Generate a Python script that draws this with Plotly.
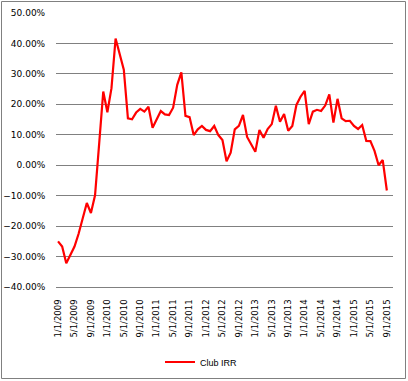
import plotly.graph_objects as go

# Monthly categories 1/1/2009 .. 10/1/2015 (last category empty)
years = [2009, 2010, 2011, 2012, 2013, 2014, 2015]
categories = [f"{m}/1/{y}" for y in years for m in range(1, 13)][:82]

club_irr = [
    -25.0, -26.7, -32.2, -29.5, -26.7, -22.5, -17.5, -12.4, -15.7, -9.9,
    7.0, 24.2, 17.4, 25.3, 41.6, 36.5, 31.4, 15.4, 15.1, 17.3,
    18.5, 17.6, 19.2, 12.3, 15.2, 17.8, 16.7, 16.5, 18.9, 26.4,
    30.5, 16.2, 15.8, 9.9, 11.8, 12.9, 11.6, 11.2, 12.9, 9.9,
    8.3, 1.3, 4.1, 11.8, 12.9, 16.5, 9.3, 6.8, 4.4, 11.6,
    9.0, 11.9, 13.5, 19.5, 14.3, 16.8, 11.3, 12.9, 19.8, 22.5,
    24.4, 13.5, 17.6, 18.2, 17.8, 19.6, 23.3, 14.0, 21.8, 15.4,
    14.5, 14.6, 12.9, 11.9, 13.2, 8.0, 7.9, 4.7, 0.0, 1.7,
    -8.3,
]
tick_labels = categories[0:81:4]
y_ticks = [-0.4, -0.3, -0.2, -0.1, 0.0, 0.1, 0.2, 0.3, 0.4, 0.5]

W, H = 408, 381
ML, MR, MT, MB = 56, 15, 13, 94
PW, PH = W - ML - MR, H - MT - MB

fig = go.Figure()
fig.add_trace(go.Scatter(
    x=list(range(len(club_irr))),
    y=[v / 100 for v in club_irr],
    mode="lines",
    name="Club IRR",
    line=dict(color="#FF0000", width=2.2),
))

grid = "#808080"
fig.update_layout(
    width=W, height=H,
    margin=dict(l=ML, r=MR, t=MT, b=MB, pad=0, autoexpand=False),
    paper_bgcolor="white", plot_bgcolor="white",
    showlegend=True,
    legend=dict(
        orientation="h", xanchor="left", yanchor="middle",
        x=(160 - ML) / PW, y=(MT + PH - 362) / PH,
        font=dict(family="Liberation Sans", size=9, color="#000000"),
        bgcolor="rgba(0,0,0,0)",
    ),
    xaxis=dict(
        range=[-0.5, len(categories) - 0.5],
        tickmode="array",
        tickvals=list(range(0, 81, 4)),
        ticktext=tick_labels,
        tickangle=-90,
        showgrid=False, zeroline=False,
        showline=True, linecolor=grid, linewidth=1,
        ticks="outside", ticklen=8, tickcolor="rgba(0,0,0,0)",
        tickfont=dict(family="DejaVu Sans", size=8.5, color="#000000"),
    ),
    yaxis=dict(
        range=[-0.4, 0.5],
        tickmode="array",
        tickvals=y_ticks,
        tickformat=".2%",
        showgrid=True, gridcolor=grid, gridwidth=1,
        zeroline=False, showline=False,
        ticks="outside", ticklen=8, tickcolor="rgba(0,0,0,0)",
        tickfont=dict(family="DejaVu Sans", size=9, color="#000000"),
    ),
    shapes=[dict(
        type="rect", xref="paper", yref="paper",
        x0=(1.5 - ML) / PW, x1=(405.5 - ML) / PW,
        y0=(MT + PH - 378.5) / PH, y1=(MT + PH - 1.5) / PH,
        line=dict(color=grid, width=1), fillcolor="rgba(0,0,0,0)",
        layer="below",
    )],
)

fig.write_html(
    "out.html",
    config={"displayModeBar": False},
    post_script="document.body.style.margin='0px';document.body.style.overflow='hidden';",
)
